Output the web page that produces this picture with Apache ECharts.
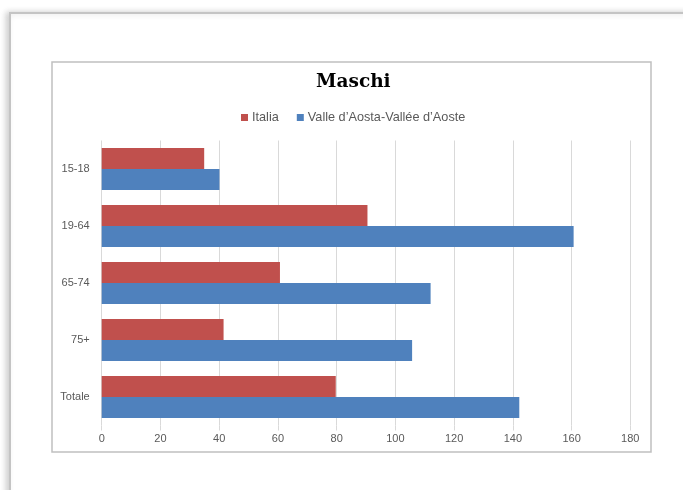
<!DOCTYPE html>
<html>
<head>
<meta charset="utf-8">
<script src="https://cdn.jsdelivr.net/npm/echarts@6/dist/echarts.min.js"></script>
<style>
  html, body { margin: 0; padding: 0; background: #ffffff; }
  #chart { width: 683px; height: 490px; }
</style>
</head>
<body>
<div id="chart"></div>
<script>
// Age groups shown on the vertical axis (top to bottom)
const categories = ['15-18', '19-64', '65-74', '75+', 'Totale'];
// Series values
const italia = [34.9, 90.5, 60.7, 41.5, 79.7];
const valleAosta = [40.1, 160.7, 112.0, 105.7, 142.2];
// Value axis range
const axisMin = 0;
const axisMax = 180;
const axisStep = 20;

const labelColor = '#595959';
const gridColor = '#d9d9d9';

const chart = echarts.init(document.getElementById('chart'), null, { renderer: 'canvas' });

chart.setOption({
  animation: false,
  backgroundColor: '#ffffff',
  graphic: [
    // page sheet with a soft shadow on the left
    {
      type: 'rect',
      shape: { x: 10, y: 13, width: 700, height: 500 },
      style: {
        fill: '#ffffff',
        stroke: '#c4c4c4',
        lineWidth: 2,
        shadowBlur: 6,
        shadowOffsetX: -3,
        shadowOffsetY: 0,
        shadowColor: 'rgba(0,0,0,0.18)'
      },
      z: -10
    },
    // chart frame
    {
      type: 'rect',
      shape: { x: 52, y: 62, width: 599, height: 390 },
      style: { fill: '#ffffff', stroke: '#c0c0c0', lineWidth: 1.5 },
      z: -9
    }
  ],
  title: {
    text: 'Maschi',
    left: 311,
    top: 68,
    textStyle: {
      fontFamily: 'DejaVu Serif',
      fontWeight: 'bold',
      fontSize: 18.5,
      color: '#000000'
    }
  },
  legend: {
    top: 106,
    left: 236,
    itemWidth: 7,
    itemHeight: 7,
    itemGap: 18,
    icon: 'rect',
    textStyle: { fontFamily: 'Liberation Sans', fontSize: 12.7, color: labelColor, padding: [0, 0, 0, -1] },
    data: ['Italia', 'Valle d\u2019Aosta-Vall\u00e9e d\u2019Aoste']
  },
  grid: {
    left: 101.7,
    right: 52.7,
    top: 140.5,
    height: 285,
    containLabel: false
  },
  xAxis: {
    type: 'value',
    min: axisMin,
    max: axisMax,
    interval: axisStep,
    axisLine: { show: false },
    axisTick: { show: true, length: 5, lineStyle: { color: gridColor } },
    splitLine: { show: true, lineStyle: { color: gridColor, width: 1 } },
    axisLabel: { fontFamily: 'Liberation Sans', fontSize: 11, color: labelColor, margin: 8 }
  },
  yAxis: {
    type: 'category',
    data: categories,
    inverse: true,
    axisLine: { show: false },
    axisTick: { show: false },
    axisLabel: { fontFamily: 'Liberation Sans', fontSize: 11, color: labelColor, margin: 12 }
  },
  series: [
    {
      name: 'Italia',
      type: 'bar',
      data: italia,
      barWidth: 21,
      barGap: '0%',
      itemStyle: { color: '#C0504D' }
    },
    {
      name: 'Valle d\u2019Aosta-Vall\u00e9e d\u2019Aoste',
      type: 'bar',
      data: valleAosta,
      barWidth: 21,
      barGap: '0%',
      itemStyle: { color: '#4F81BD' }
    }
  ]
});
</script>
</body>
</html>
